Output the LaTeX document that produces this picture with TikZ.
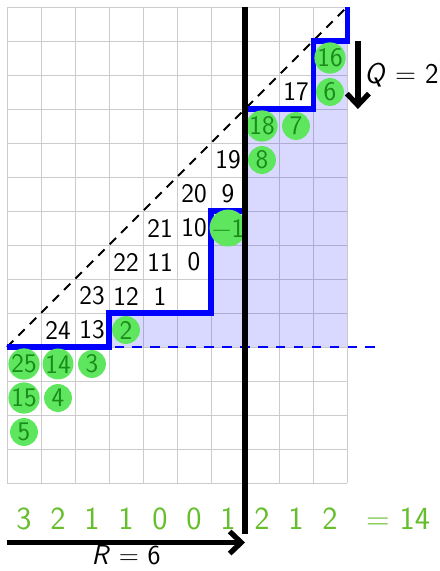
\documentclass[tikz,border=0pt]{standalone}
\usepackage{fontspec}
\usetikzlibrary{arrows.meta}
\definecolor{circfill}{RGB}{94,230,94}
\definecolor{circtext}{RGB}{25,140,25}
\definecolor{sumgreen}{RGB}{102,190,45}
\begin{document}
\begin{tikzpicture}[x=1cm,y=1cm,
  numfont/.style={font=\fontsize{22.5}{24}\selectfont\sffamily},
  cellnum/.style={numfont, inner sep=0pt},
  dot/.style={circle, fill=circfill, minimum size=0.82cm, inner sep=0pt, text=circtext, numfont},
  sumnum/.style={font=\fontsize{27}{29}\selectfont\sffamily, text=sumgreen, inner sep=0pt},
  gridline/.style={gray!40, line width=0.8pt},
  stair/.style={blue, line width=4.2pt},
  bigline/.style={line width=4.6pt},
  bigarrow/.style={line width=4.4pt, -{Straight Barb[length=3.4mm,width=6.5mm]}},
  label/.style={font=\fontsize{24}{26}\selectfont\sffamily, inner sep=0pt}
]
\useasboundingbox (-0.206,-2.588) rectangle (12.706,14.206);
% grid
\draw[gridline] (0,0) grid (10,14);
% blue dashed level line
\draw[blue, line width=2.2pt, dash pattern=on 8pt off 7pt] (0,4) -- (11,4);
% shaded region
\fill[blue, opacity=0.15] (3,4) -- (3,5) -- (6,5) -- (6,8) -- (7,8) -- (7,11) -- (9,11) -- (9,13) -- (10,13) -- (10,4) -- cycle;
% diagonal
\draw[line width=1.7pt, dash pattern=on 7.5pt off 6pt] (0,4) -- (10,14);
% staircase
\draw[stair] (0,4) -- (3,4) -- (3,5) -- (6,5) -- (6,8) -- (7,8) -- (7,11) -- (9,11) -- (9,13) -- (10,13) -- (10,14);
% black numbers
\foreach \c/\r/\t [count=\k] in {1/4/24, 2/4/13, 2/5/23, 3/5/12, 4/5/1, 3/6/22, 4/6/11, 5/6/0, 4/7/21, 5/7/10, 5/8/20, 6/8/9, 6/9/19, 8/11/17}
  \node[cellnum] (n\k) at (\c+0.5,\r+0.5) {\t};
% green circles
\foreach \c/\r/\t [count=\k] in {3/4/2, 6/7/{−1}, 7/9/8, 7/10/18, 8/10/7, 9/11/6, 9/12/16, 0/3/25, 1/3/14, 2/3/3, 0/2/15, 1/2/4, 0/1/5}
  \node[dot] (g\k) at (\c+0.5,\r+0.5) {\t};
% vertical black line
\coordinate (vtop) at (7,14);
\coordinate (vbot) at (7,-1.5);
\draw[bigline] (vtop) -- (vbot);
% bottom sums
\foreach \c/\t [count=\k] in {0/3, 1/2, 2/1, 3/1, 4/0, 5/0, 6/1, 7/2, 8/1, 9/2}
  \node[sumnum] (s\k) at (\c+0.5,-1.05) {\t};
\node[sumnum] (total) at (11.5,-1.05) {= 14};
% R arrow
\coordinate (ra) at (0,-1.75);
\coordinate (rb) at (7,-1.75);
\draw[bigarrow] (ra) -- (rb);
\node[label, font=\fontsize{23}{25}\selectfont\sffamily] (rlab) at (3.5,-2.13) {\textit{R} = 6};
% Q arrow
\coordinate (qa) at (10.32,13);
\coordinate (qb) at (10.32,11);
\draw[bigarrow] (qa) -- (qb);
\node[label] (qlab) at (11.6,12) {\textit{Q} = 2};
\end{tikzpicture}
\end{document}
